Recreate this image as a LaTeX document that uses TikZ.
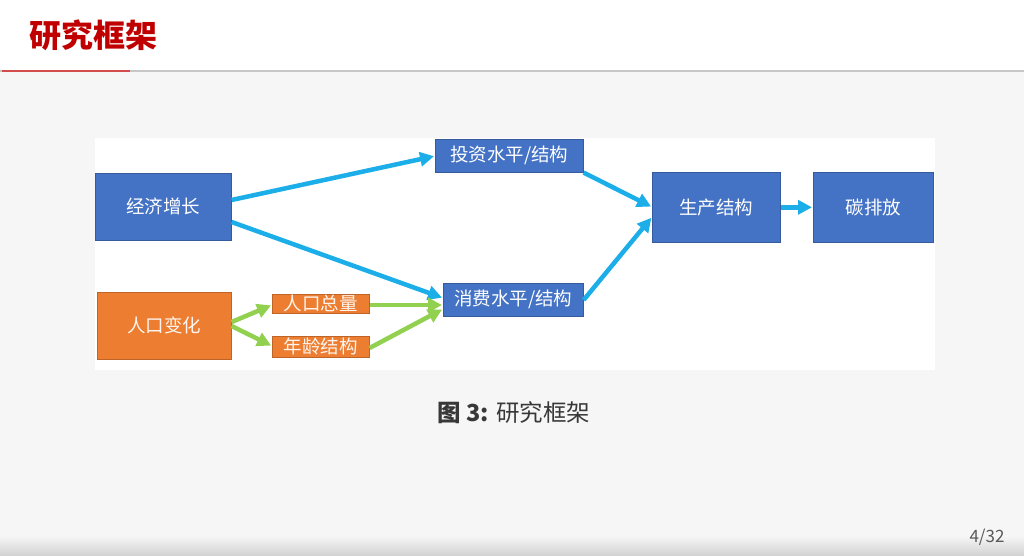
\documentclass[tikz,border=0pt]{standalone}
\usepackage{fontspec}
\setmainfont{Noto Sans CJK SC}
\newfontfamily\cjk{Noto Sans CJK SC}
\usetikzlibrary{arrows.meta}
\definecolor{boxblue}{HTML}{4472C4}
\definecolor{boxorange}{HTML}{ED7D31}
\definecolor{arrcyan}{HTML}{1BAEE8}
\definecolor{arrgreen}{HTML}{92D050}
\definecolor{titlered}{HTML}{C00000}
\definecolor{slidebg}{HTML}{F6F6F6}
\tikzset{
  bluebox/.style={draw=boxblue!80!black, line width=0.6pt, fill=boxblue, text=white, inner sep=0pt, anchor=north west, font=\cjk\fontsize{18.5}{20}\selectfont},
  orangebox/.style={draw=boxorange!80!black, line width=0.6pt, fill=boxorange, text=white!92!boxorange, inner sep=0pt, anchor=north west, font=\cjk\fontsize{18.5}{20}\selectfont},
  cyanarrow/.style={draw=arrcyan, line width=4.5pt, -{Triangle[length=14pt,width=14pt]}, shorten >=1pt},
  greenarrow/.style={draw=arrgreen, line width=4.5pt, -{Triangle[length=14pt,width=14pt]}, shorten >=1pt},
}
\begin{document}
\begin{tikzpicture}[x=1pt,y=-1pt]
\useasboundingbox (0,0) rectangle (1024,556);
% backgrounds
\fill[white] (0,0) rectangle (1024,71);
\fill[slidebg] (0,71) rectangle (1024,556);
\shade[top color=slidebg, bottom color=black!18] (0,536) rectangle (1024,556);
\fill[black!22] (0,70) rectangle (1024,72.5);
\fill[titlered!70!white] (2,70) rectangle (130,72.5);
\node[anchor=west, inner sep=0pt, text=titlered, font=\cjk\bfseries\fontsize{32}{34}\selectfont] (title) at (29,35) {研究框架};
% diagram canvas
\fill[white] (95,138) rectangle (935,370);
% nodes
\node[bluebox, minimum width=136pt, minimum height=67pt] (econ) at (95,173) {经济增长};
\node[bluebox, minimum width=148pt, minimum height=33pt] (invest) at (435,139) {投资水平/结构};
\node[bluebox, minimum width=140pt, minimum height=33pt] (consume) at (443,283) {消费水平/结构};
\node[bluebox, minimum width=128pt, minimum height=70pt] (prod) at (652,172) {生产结构};
\node[bluebox, minimum width=120pt, minimum height=70pt] (carbon) at (813,172) {碳排放};
\node[orangebox, minimum width=134pt, minimum height=67pt] (pop) at (97,292) {人口变化};
\node[orangebox, minimum width=97pt, minimum height=19pt, text height=15pt, text depth=2pt] (total) at (272,294) {人口总量};
\node[orangebox, minimum width=97pt, minimum height=21pt, text height=15pt, text depth=2pt] (age) at (272,336) {年龄结构};
% connectors
\draw[cyanarrow] (econ.east |- 0,200) -- (invest.west |- 0,156);
\draw[cyanarrow] (econ.east |- 0,222) -- (consume.west |- 0,298);
\draw[cyanarrow] (invest.south east) -- (prod.west |- 0,207);
\draw[cyanarrow] (consume.east |- 0,300) -- (prod.west |- 0,217);
\draw[cyanarrow] (prod.east) -- (carbon.west);
\draw[greenarrow] (pop.east |- 0,322) -- (total.west |- 0,305);
\draw[greenarrow] (pop.east |- 0,326) -- (age.west |- 0,346);
\draw[greenarrow] (total.east |- 0,305) -- (consume.west |- 0,305);
\draw[greenarrow] (age.east |- 0,348) -- (consume.west |- 0,309);
% caption
\node[text=black!78, font=\cjk\fontsize{23.5}{26}\selectfont] (caption) at (514,413) {{\bfseries 图 3:} 研究框架};
\node[anchor=east, text=black!65, font=\cjk\fontsize{17}{19}\selectfont] (page) at (1008,537) {4/32};
\end{tikzpicture}
\end{document}
